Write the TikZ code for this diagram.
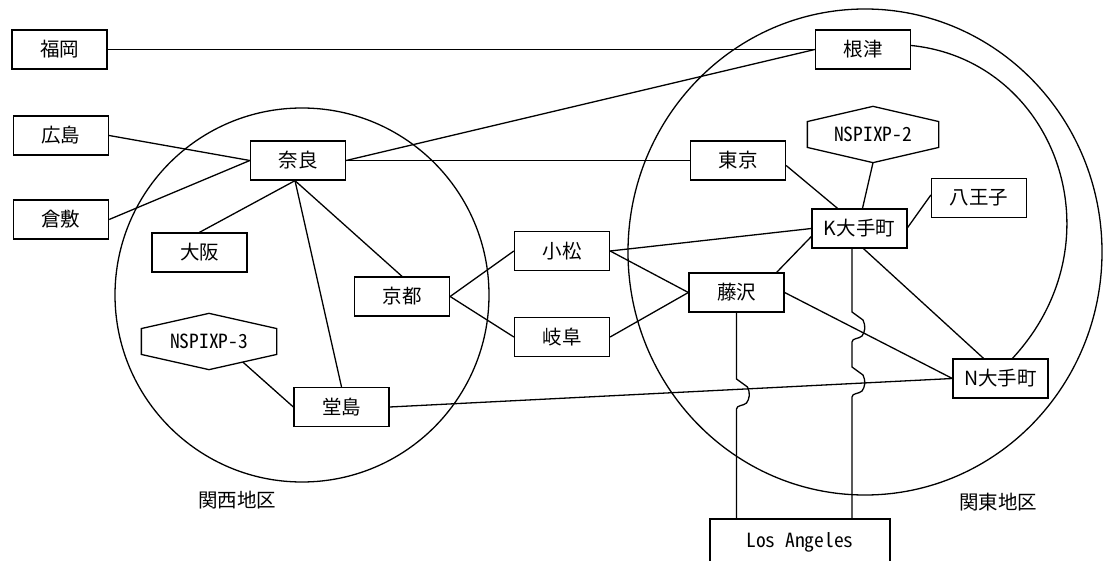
\documentclass[tikz,border=0pt]{standalone}
\usepackage{fontspec}
\setmainfont{Noto Sans CJK JP}
\newfontfamily\halfwidth{Noto Sans CJK JP}[RawFeature=+hwid]
\usetikzlibrary{calc}
% hexagonal frame around a (borderless) node
\newcommand\hexframe[1]{%
  \draw[fill=white] ($(#1.north west)!0.27!(#1.south west)$) -- (#1.north)
    -- ($(#1.north east)!0.27!(#1.south east)$)
    -- ($(#1.north east)!0.73!(#1.south east)$) -- (#1.south)
    -- ($(#1.north west)!0.73!(#1.south west)$) -- cycle;}
\begin{document}
\begin{tikzpicture}[x=1pt, y=-1pt, line width=1.3pt,
  site/.style={draw, fill=white, minimum width=95pt, minimum height=39pt,
    inner sep=0pt, font=\fontsize{19.5}{22}\selectfont},
  ixp/.style={minimum width=#1, minimum height=55pt, inner sep=0pt,
    font=\halfwidth\fontsize{19.5}{22}\selectfont},
  area/.style={font=\fontsize{19.5}{22}\selectfont, inner sep=0pt}]
\useasboundingbox (0,0) rectangle (1103,561);
\clip (0,0) rectangle (1103,561);

% regions
\draw (302,295) circle (187);
\draw (865,252) ellipse [x radius=237, y radius=243];
\node[area] (kansai) at (237,500) {関西地区};
\node[area] (kanto) at (998,502) {関東地区};

% sites
\node[site] (fukuoka)   at (59.5,49.5)  {福岡};
\node[site] (hiroshima) at (61,135.5)   {広島};
\node[site] (kurashiki) at (61,219.5)   {倉敷};
\node[site] (nara)      at (298,160.5)  {奈良};
\node[site] (osaka)     at (199.5,252.5){大阪};
\node[site] (kyoto)     at (402,296.5)  {京都};
\node[site] (komatsu)   at (562,251)    {小松};
\node[site] (gifu)      at (562,337)    {岐阜};
\node[site] (doujima)   at (341.5,407)  {堂島};
\node[site] (tokyo)     at (738,160.5)  {東京};
\node[site] (nezu)      at (863,49.5)   {根津};
\node[site] (hachi)     at (979,198)    {八王子};
\node[site] (kote)      at (859.5,228.5){K大手町};
\node[site] (fuji)      at (736.5,292.5){藤沢};
\node[site] (ntote)     at (1000.5,378.5){N大手町};
\node[site, minimum width=180pt, minimum height=46pt,
      font=\halfwidth\fontsize{19.5}{22}\selectfont] (la) at (800,542) {Los Angeles};

% exchange points
\node[ixp=130pt] (nsp2) at (873,134.5) {};
\hexframe{nsp2}
\node[ixp=130pt] at (nsp2) {NSPIXP-2};
\node[ixp=134pt] (nsp3) at (209,341.5) {};
\hexframe{nsp3}
\node[ixp=134pt] at (nsp3) {NSPIXP-3};
\coordinate (nsp3-lr) at ($(nsp3.north east)!0.73!(nsp3.south east)$);

% links
\draw (fukuoka.east) -- (nezu.west);
\draw (hiroshima.east) -- (nara.west);
\draw (kurashiki.east) -- (nara.west);
\draw (nara.east) -- (nezu.west);
\draw (nara.east) -- (tokyo.west);
\draw ([xshift=-3pt]nara.south) -- (osaka.north);
\draw ([xshift=-3pt]nara.south) -- (doujima.north);
\draw ([xshift=-3pt]nara.south) -- (kyoto.north);
\draw (kyoto.east) -- (komatsu.west);
\draw (kyoto.east) -- (gifu.west);
\draw (komatsu.east) -- (kote.west);
\draw (komatsu.east) -- (fuji.west);
\draw (gifu.east) -- (fuji.west);
\draw ([xshift=-8pt]fuji.north east) -- ([yshift=-8pt]kote.west);
\draw (fuji.east) -- (ntote.west);
\draw (doujima.east) -- (ntote.west);
\draw ([yshift=-5pt]tokyo.east) -- ([xshift=-22pt]kote.north);
\draw (nsp2.south) -- ([xshift=3pt]kote.north);
\draw ([yshift=3pt]hachi.west) -- ([yshift=1pt]kote.east);
\draw ([xshift=4pt]kote.south) -- ([xshift=-17pt]ntote.north);
\draw ($(nsp3.south)!0.5!(nsp3-lr)$) -- (doujima.west);
\draw ([yshift=4pt]nezu.east) .. controls (1055,60) and (1122,240) .. ([xshift=12pt]ntote.north);

% lines to Los Angeles, with jumps over crossing links
\draw (fuji.south) -- (736.5,379) -- (747.5,387)
  .. controls (750.5,393) and (749.5,399) .. (746.5,403)
  .. controls (743.5,406) and (736.5,405) .. (736.5,409)
  -- (fuji.south |- la.north);
\draw ([xshift=-7.5pt]kote.south) -- (852,312) -- (863,320)
  .. controls (866,326) and (865,332) .. (862,336)
  .. controls (859,339) and (852,338) .. (852,342)
  -- (852,367) -- (863,375)
  .. controls (866,381) and (865,387) .. (862,391)
  .. controls (859,394) and (852,393) .. (852,397)
  -- ($(kote.south |- la.north)+(-7.5,0)$);
\end{tikzpicture}
\end{document}
